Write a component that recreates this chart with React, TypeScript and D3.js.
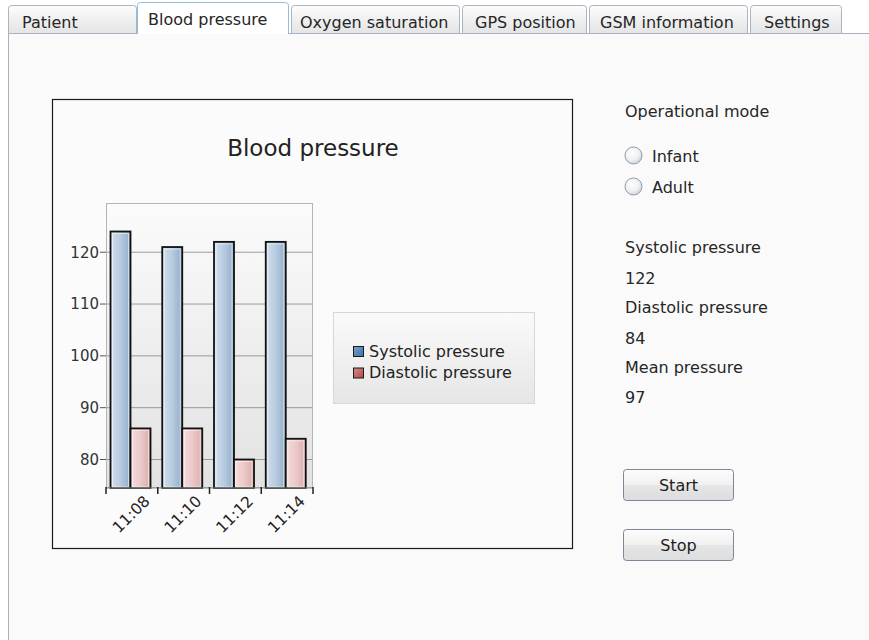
import React from "react";
import * as d3 from "d3";

// ---- data ----
const tabLabels = ["Patient", "Blood pressure", "Oxygen saturation", "GPS position", "GSM information", "Settings"];
const selectedTab = 1;
const times = ["11:08", "11:10", "11:12", "11:14"];
const systolic = [124, 121, 122, 122];
const diastolic = [86, 86, 80, 84];
const seriesNames = ["Systolic pressure", "Diastolic pressure"];
const yTicks = [80, 90, 100, 110, 120];
const chartTitle = "Blood pressure";
const modeTitle = "Operational mode";
const modeOptions = ["Infant", "Adult"];
const infoLabels = ["Systolic pressure", "Diastolic pressure", "Mean pressure"];
const infoValues = [122, 84, 97];
const buttonLabels = ["Start", "Stop"];

// ---- layout ----
const W = 869, H = 640;
const FONT = "'DejaVu Sans', Verdana, sans-serif";
const tabGeom = [
  { x0: 8, x1: 137, tx: 22 },
  { x0: 137, x1: 289, tx: 148 },
  { x0: 291, x1: 460, tx: 300 },
  { x0: 462, x1: 587, tx: 475 },
  { x0: 589, x1: 748, tx: 600 },
  { x0: 750, x1: 842, tx: 764 },
];
const box = { x: 52.5, y: 99.5, w: 520, h: 449 };
const plot = { x0: 106, x1: 313, y0: 203, y1: 488 };
const legend = { x: 333.5, y: 312.5, w: 201, h: 91 };

export default function App() {
  const x = d3.scaleBand<string>().domain(times).range([plot.x0, plot.x1]).padding(0);
  const inner = d3.scaleBand<string>().domain(seriesNames).range([4.5, 44.5]).padding(0);
  const y = d3.scaleLinear().domain([74.5, 129.5]).range([plot.y1, plot.y0]);
  const series = [systolic, diastolic];
  const barFills = ["url(#gBlue)", "url(#gPink)"];
  const legendFills = ["url(#lBlue)", "url(#lRed)"];

  const tabPath = (x0: number, x1: number, top: number, bottom: number) =>
    `M${x0},${bottom} L${x0},${top + 3} Q${x0},${top} ${x0 + 3},${top} L${x1 - 3},${top} Q${x1},${top} ${x1},${top + 3} L${x1},${bottom}`;

  return (
    <svg width={W} height={H} style={{ position: "absolute", left: 0, top: 0, fontFamily: FONT }}>
      <defs>
        <linearGradient id="tabG" x1="0" y1="0" x2="0" y2="1">
          <stop offset="0" stopColor="#fdfdfd" />
          <stop offset="0.5" stopColor="#f0f0f0" />
          <stop offset="1" stopColor="#e3e4e6" />
        </linearGradient>
        <linearGradient id="plotBg" x1="0" y1="0" x2="0" y2="1">
          <stop offset="0" stopColor="#fbfbfb" />
          <stop offset="1" stopColor="#e2e2e2" />
        </linearGradient>
        <linearGradient id="legBg" x1="0" y1="0" x2="0" y2="1">
          <stop offset="0" stopColor="#fafafa" />
          <stop offset="1" stopColor="#e6e6e6" />
        </linearGradient>
        <linearGradient id="gBlue" x1="0" y1="0" x2="1" y2="0">
          <stop offset="0" stopColor="#d3dfed" />
          <stop offset="0.5" stopColor="#b7cbe0" />
          <stop offset="1" stopColor="#91abc7" />
        </linearGradient>
        <linearGradient id="gPink" x1="0" y1="0" x2="1" y2="0">
          <stop offset="0" stopColor="#f5dddd" />
          <stop offset="0.5" stopColor="#ecc9c9" />
          <stop offset="1" stopColor="#d9acac" />
        </linearGradient>
        <linearGradient id="lBlue" x1="0" y1="0" x2="1" y2="1">
          <stop offset="0" stopColor="#7aa3cf" />
          <stop offset="1" stopColor="#3f6fa6" />
        </linearGradient>
        <linearGradient id="lRed" x1="0" y1="0" x2="1" y2="1">
          <stop offset="0" stopColor="#d98a8a" />
          <stop offset="1" stopColor="#b04848" />
        </linearGradient>
        <radialGradient id="radioG" cx="0.4" cy="0.35" r="0.7">
          <stop offset="0" stopColor="#ffffff" />
          <stop offset="0.6" stopColor="#eef0f3" />
          <stop offset="1" stopColor="#c9d0da" />
        </radialGradient>
        <linearGradient id="btnG" x1="0" y1="0" x2="0" y2="1">
          <stop offset="0" stopColor="#fdfdfd" />
          <stop offset="0.5" stopColor="#f0f0f0" />
          <stop offset="0.51" stopColor="#e6e6e6" />
          <stop offset="1" stopColor="#dcdde0" />
        </linearGradient>
      </defs>

      {/* page + panel */}
      <rect x={0} y={0} width={W} height={H} fill="#ffffff" />
      <rect x={8.5} y={33.5} width={W} height={H} fill="#fafafa" stroke="#a7b0bd" strokeWidth={1} />

      {/* tabs */}
      {tabLabels.map((t, i) => {
        const g = tabGeom[i];
        const sel = i === selectedTab;
        return (
          <g key={t}>
            <path
              d={tabPath(g.x0 + 0.5, g.x1 - 0.5, sel ? 2.5 : 5.5, sel ? 34 : 33.5) + (sel ? "" : " Z")}
              fill={sel ? "#ffffff" : "url(#tabG)"}
              stroke={sel ? "#8ec0dc" : "#aab3c1"}
              strokeWidth={1}
            />
            <text x={g.tx} y={sel ? 25 : 28} fontSize={16} fill="#262626">{t}</text>
          </g>
        );
      })}

      {/* chart box */}
      <rect x={box.x} y={box.y} width={box.w} height={box.h} fill="#fbfbfb" stroke="#1a1a1a" strokeWidth={1.2} />
      <text x={313} y={156} textAnchor="middle" fontSize={23} fill="#222">{chartTitle}</text>

      {/* plot area */}
      <rect x={plot.x0} y={plot.y0} width={plot.x1 - plot.x0} height={plot.y1 - plot.y0} fill="url(#plotBg)" />
      {yTicks.map((v) => (
        <line key={"g" + v} x1={plot.x0} x2={plot.x1} y1={y(v)} y2={y(v)} stroke="#9a9a9a" strokeWidth={1} />
      ))}
      <rect x={plot.x0 + 0.5} y={plot.y0 + 0.5} width={plot.x1 - plot.x0 - 1} height={plot.y1 - plot.y0 - 1} fill="none" stroke="#b4b4b4" strokeWidth={1} />

      {/* bars */}
      {times.map((t, i) => (
        <g key={t}>
          {seriesNames.map((s, k) => {
            const bx = (x(t) as number) + (inner(s) as number);
            const bw = inner.bandwidth();
            const by = y(series[k][i]);
            const bh = plot.y1 - by;
            return (
              <g key={s}>
                <rect x={bx} y={by} width={bw} height={bh} fill={barFills[k]} stroke="#111" strokeWidth={1.8} />
                <rect x={bx + 2} y={by + 2} width={bw - 4} height={bh - 3} fill="none" stroke="#ffffff" strokeOpacity={0.55} strokeWidth={1} />
              </g>
            );
          })}
        </g>
      ))}

      {/* y axis */}
      {yTicks.map((v) => (
        <g key={"t" + v}>
          <line x1={plot.x0 - 6} x2={plot.x0} y1={y(v)} y2={y(v)} stroke="#555" strokeWidth={1} />
          <text x={plot.x0 - 7} y={y(v)} dy="0.36em" textAnchor="end" fontSize={15} fill="#333">{v}</text>
        </g>
      ))}

      {/* x axis */}
      <line x1={plot.x0} x2={plot.x1} y1={plot.y1} y2={plot.y1} stroke="#888" strokeWidth={1} />
      {[...times.map((t) => x(t) as number), plot.x1].map((px, i) => (
        <line key={"xt" + i} x1={px} x2={px} y1={plot.y1 - 1} y2={plot.y1 + 6} stroke="#222" strokeWidth={1.5} />
      ))}
      {times.map((t) => {
        const cx = (x(t) as number) + x.bandwidth() / 2 - 1;
        const cy = 514;
        return (
          <text key={"xl" + t} x={cx} y={cy} dy="0.36em" textAnchor="middle" fontSize={15.5} fill="#222" transform={`rotate(-45 ${cx} ${cy})`}>
            {t}
          </text>
        );
      })}

      {/* legend */}
      <rect x={legend.x} y={legend.y} width={legend.w} height={legend.h} fill="url(#legBg)" stroke="#d6d6d6" strokeWidth={1} />
      {seriesNames.map((s, k) => (
        <g key={"lg" + s}>
          <rect x={353.5} y={346.5 + k * 21.5} width={10} height={10} fill={legendFills[k]} stroke="#1a1a1a" strokeWidth={1} />
          <text x={369} y={356.5 + k * 21.5} fontSize={16} fill="#222">{s}</text>
        </g>
      ))}

      {/* right-side controls */}
      <text x={625} y={117} fontSize={16} fill="#262626">{modeTitle}</text>
      {modeOptions.map((m, i) => (
        <g key={m}>
          <circle cx={633.5} cy={155.5 + i * 31} r={8.5} fill="url(#radioG)" stroke="#8e99a8" strokeWidth={1} />
          <text x={652} y={162 + i * 30.5} fontSize={16} fill="#262626">{m}</text>
        </g>
      ))}
      {infoLabels.map((l, i) => (
        <g key={l}>
          <text x={625} y={253 + i * 60} fontSize={16} fill="#262626">{l}</text>
          <text x={625} y={284 + i * 59.5} fontSize={16} fill="#262626">{infoValues[i]}</text>
        </g>
      ))}
      {buttonLabels.map((b, i) => (
        <g key={b}>
          <rect x={623.5} y={469.5 + i * 60} width={110} height={31} rx={3} fill="url(#btnG)" stroke="#7d8795" strokeWidth={1} />
          <text x={678.5} y={491 + i * 60} textAnchor="middle" fontSize={16} fill="#1e1e1e">{b}</text>
        </g>
      ))}
    </svg>
  );
}
